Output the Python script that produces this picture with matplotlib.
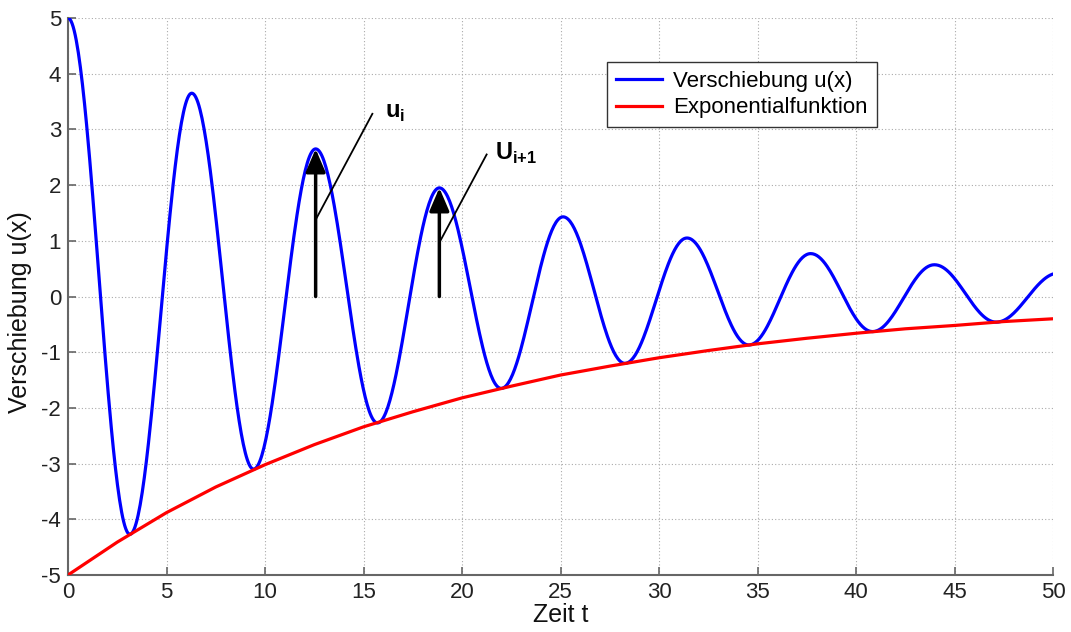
import numpy as np
import matplotlib
matplotlib.use("Agg")
import matplotlib.pyplot as plt

# ---- data ----
# extrema of the displacement curve (time, value)
ext_t = [0.0, 3.14, 6.28, 9.42, 12.57, 15.71, 18.85, 21.99, 25.13, 28.27,
         31.42, 34.56, 37.70, 40.84, 43.98, 47.12, 50.27]
ext_u = [5.00, -4.27, 3.65, -3.10, 2.65, -2.27, 1.95, -1.65, 1.43, -1.20,
         1.05, -0.87, 0.77, -0.63, 0.57, -0.46, 0.42]
# lower envelope (exponential function) sampled every 2.5
env_t = [0, 2.5, 5, 7.5, 10, 12.5, 15, 17.5, 20, 22.5, 25, 27.5, 30, 32.5,
         35, 37.5, 40, 42.5, 45, 47.5, 50]
env_u = [-5.00, -4.41, -3.88, -3.42, -3.02, -2.66, -2.34, -2.07, -1.82, -1.61,
         -1.41, -1.25, -1.10, -0.97, -0.85, -0.75, -0.66, -0.58, -0.52, -0.45, -0.40]
# marked amplitudes u_i and u_{i+1}
arrow_t = [12.57, 18.85]
arrow_u = [2.65, 1.95]
x_ticks = [0, 5, 10, 15, 20, 25, 30, 35, 40, 45, 50]
y_ticks = [-5, -4, -3, -2, -1, 0, 1, 2, 3, 4, 5]

plt.rcParams['font.family'] = ['Liberation Sans', 'DejaVu Sans']
plt.rcParams['mathtext.fontset'] = 'custom'
plt.rcParams['mathtext.bf'] = 'Liberation Sans:bold'
plt.rcParams['mathtext.rm'] = 'Liberation Sans'
plt.rcParams['axes.unicode_minus'] = False

fig = plt.figure(figsize=(10.71, 6.32), dpi=100)
ax = fig.add_axes([0.0635, 0.0902, 0.9197, 0.8813])

# smooth half-wave shape between successive extrema
bt, bu = [], []
for k in range(len(ext_t) - 1):
    s = np.linspace(0, 1, 60, endpoint=False)
    t0, t1 = ext_t[k], ext_t[k + 1]
    v0, v1 = ext_u[k], ext_u[k + 1]
    bt.append(t0 + s * (t1 - t0))
    bu.append((v0 + v1) / 2 + (v0 - v1) / 2 * np.cos(np.pi * s))
bt = np.concatenate(bt + [[ext_t[-1]]])
bu = np.concatenate(bu + [[ext_u[-1]]])

ax.plot(bt, bu, color='#0000ff', lw=2.3, label='Verschiebung u(x)', zorder=3)
ax.plot(env_t, env_u, color='#ff0000', lw=2.3, label='Exponentialfunktion', zorder=3)

for t, u in zip(arrow_t, arrow_u):
    ax.annotate('', xy=(t, u), xytext=(t, 0),
                arrowprops=dict(arrowstyle='-|>,head_length=0.7,head_width=0.3',
                                color='black', lw=2.5, shrinkA=0, shrinkB=0,
                                mutation_scale=20), zorder=4)

# leader lines and labels
ax.plot([12.62, 15.45], [1.41, 3.28], color='black', lw=1.3, zorder=4)
ax.plot([18.93, 21.25], [1.02, 2.55], color='black', lw=1.3, zorder=4)
ax.text(16.1, 3.30, r'$\mathbf{u}_{\mathbf{i}}$', fontsize=17, va='center', ha='left')
ax.text(21.7, 2.57, r'$\mathbf{U}_{\mathbf{i{+}1}}$', fontsize=17, va='center', ha='left')

ax.set_xlim(0, 50)
ax.set_ylim(-5, 5)
ax.set_xticks(x_ticks)
ax.set_yticks(y_ticks)
ax.grid(True, color='#aaaaaa', linestyle=(0, (1, 2)), lw=0.8)
for side in ['top', 'right']:
    ax.spines[side].set_visible(False)
for side in ['left', 'bottom']:
    ax.spines[side].set_color('#666666')
    ax.spines[side].set_linewidth(1.5)
ax.tick_params(direction='in', length=6, width=1.2, color='#666666',
               labelsize=16, labelcolor='#222222', pad=5)

ax.set_xlabel('Zeit t', fontsize=18, color='#111111')
ax.set_ylabel('Verschiebung u(x)', fontsize=18, color='#111111')
ax.xaxis.set_label_coords(0.5, -0.05)
ax.yaxis.set_label_coords(-0.037, 0.472)

leg = ax.legend(loc='upper left', bbox_to_anchor=(0.547, 0.921), borderaxespad=0,
                fancybox=False, edgecolor='#333333', fontsize=16,
                handlelength=2.1, handletextpad=0.5, borderpad=0.4,
                labelspacing=0.25, framealpha=1)
leg.get_frame().set_linewidth(1.0)

fig.savefig('out.png', dpi=100)
